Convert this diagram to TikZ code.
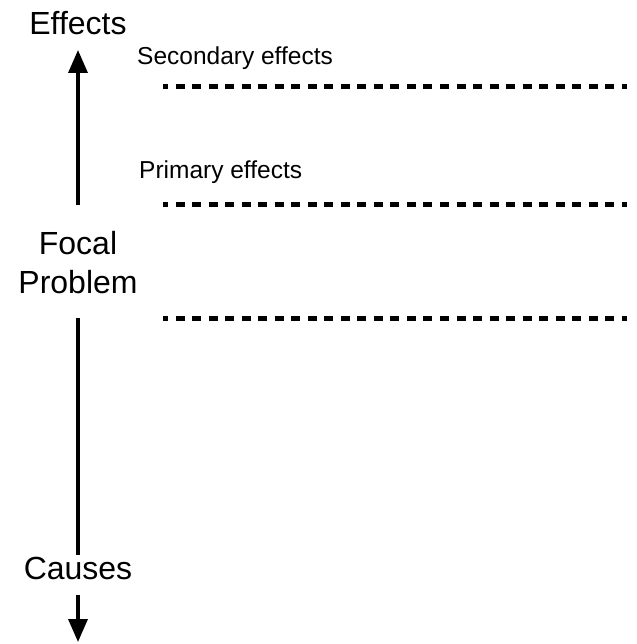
\documentclass[tikz,border=0pt]{standalone}
\usepackage{fontspec}
\setmainfont{Liberation Sans}
\usetikzlibrary{arrows.meta}
\begin{document}
\begin{tikzpicture}[x=1pt,y=-1pt,
  big/.style={font=\fontsize{32}{39}\selectfont, inner sep=0pt, anchor=base},
  small/.style={font=\fontsize{24.5}{29}\selectfont, inner sep=0pt, anchor=base west},
  axisline/.style={line width=3.5pt},
  arr/.style={axisline, -{Triangle[width=19pt,length=23pt]}},
  level/.style={line width=5pt, dash pattern=on 9pt off 7.53pt, dash phase=4pt}]
\useasboundingbox (0,0) rectangle (636,644);
% labels
\node[big] (effects) at (78,35) {Effects};
\node[big, align=center] (focal) at (78,293) {Focal\\Problem};
\node[big] (causes) at (78,579) {Causes};
\node[small] (secondary) at (137,65) {Secondary effects};
\node[small] (primary) at (139,179) {Primary effects};
% axis coordinates
\coordinate (upstart) at (78,205);
\coordinate (uptip) at (78,50);
\coordinate (lowtop) at (78,318);
\coordinate (lowbot) at (78,555);
\coordinate (downstart) at (78,595);
\coordinate (downtip) at (78,642);
\draw[arr] (upstart) -- (uptip);
\draw[axisline] (lowtop) -- (lowbot);
\draw[arr] (downstart) -- (downtip);
% level lines
\coordinate (s1) at (163,86.5);  \coordinate (s2) at (627,86.5);
\coordinate (p1) at (163,204.5); \coordinate (p2) at (627,204.5);
\coordinate (f1) at (163,318);   \coordinate (f2) at (627,318);
\draw[level] (s1) -- (s2);
\draw[level] (p1) -- (p2);
\draw[level] (f1) -- (f2);
\end{tikzpicture}
\end{document}
